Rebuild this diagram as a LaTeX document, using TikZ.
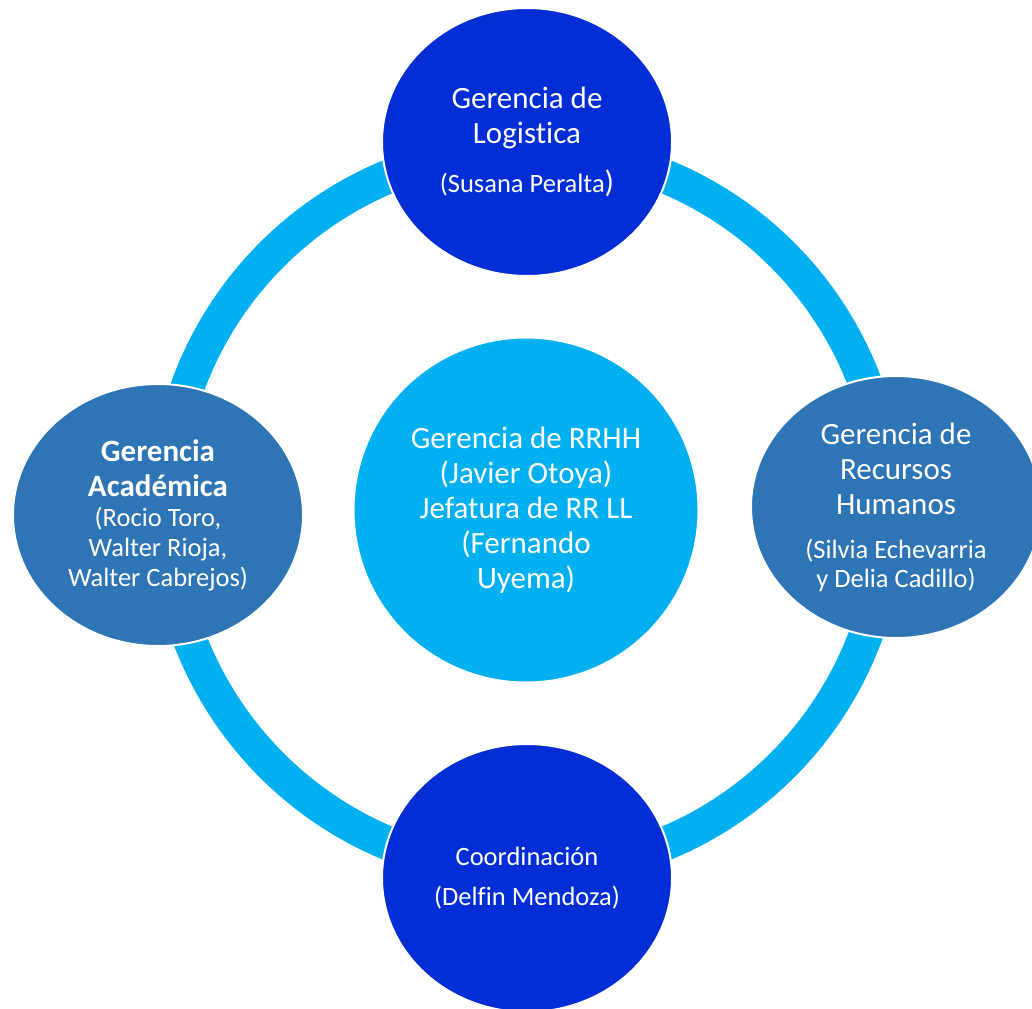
\documentclass[tikz,border=0pt]{standalone}
\usepackage{fontspec}
\setmainfont[RawFeature=-liga]{Carlito}
\usetikzlibrary{shapes.geometric}
\definecolor{darkblue}{RGB}{3,46,214}
\definecolor{midblue}{RGB}{46,117,182}
\definecolor{lightblue}{RGB}{0,176,240}
\newcommand{\namefont}{\fontsize{26.5}{30}\selectfont}

\begin{document}
\begin{tikzpicture}[x=1pt,y=-1pt]
\tikzset{
  unitnode/.style={ellipse,draw=white,line width=2pt,minimum width=290pt,minimum height=262pt,inner sep=0pt,
    text=white,align=center,font=\fontsize{31}{35}\selectfont},
  topnode/.style={unitnode,fill=darkblue,minimum height=268pt},
  sidenode/.style={unitnode,fill=midblue},
  hubnode/.style={unitnode,circle,fill=lightblue,minimum size=345pt},
  ring/.style={draw=lightblue,line width=34pt}
}
\clip (0,0) rectangle (1032,1008);
\coordinate (c_ring) at (527,510);
\draw[ring] (c_ring) circle[radius=361pt];
\node[hubnode] (n_centro) at (526,510) {Gerencia de RRHH\\(Javier Otoya)\\Jefatura de RR LL\\(Fernando\\Uyema)};
\node[topnode] (n_log) at (527,142) {Gerencia de\\Logistica\\[14pt]{\namefont(Susana Peralta})};
\node[sidenode] (n_acad) at (158,515) {\textbf{Gerencia}\\\textbf{Académica}\\[-5pt]{\namefont(Rocio Toro,}\\[-5pt]{\namefont Walter Rioja,}\\[-5pt]{\namefont Walter Cabrejos)}};
\node[sidenode] (n_rrhh) at (896,507) {Gerencia de\\Recursos\\Humanos\\[9pt]{\namefont(Silvia Echevarria}\\[-6pt]{\namefont y Delia Cadillo)}};
\node[topnode,font=\namefont] (n_coord) at (527,878) {Coordinación\\[10pt](Delfin Mendoza)};
\end{tikzpicture}
\end{document}
